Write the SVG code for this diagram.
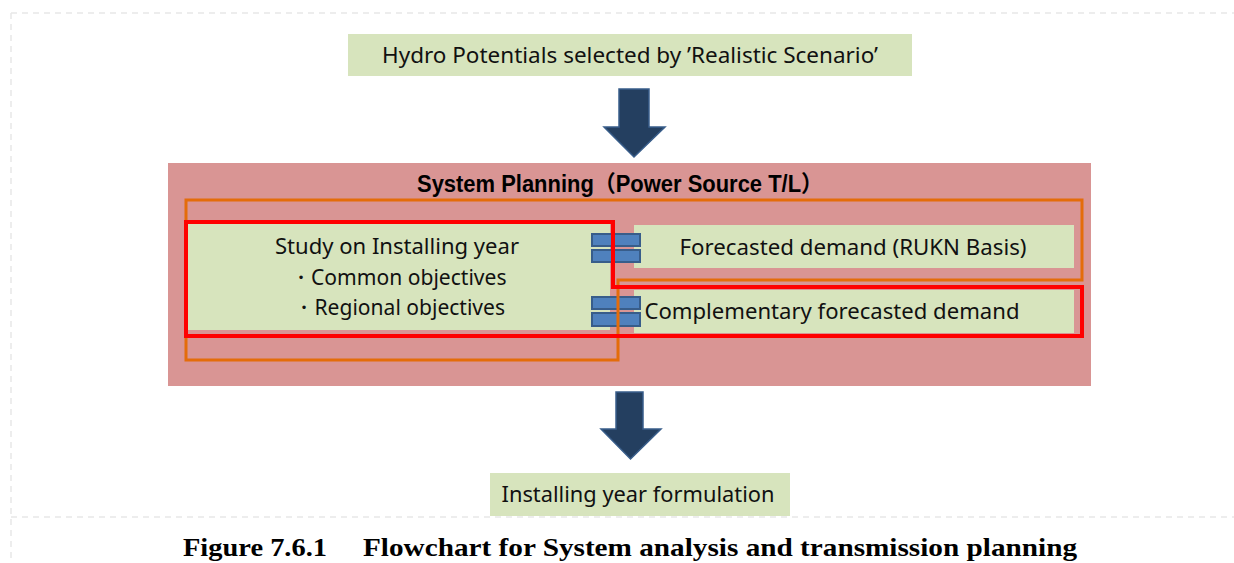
<svg xmlns="http://www.w3.org/2000/svg" width="1234" height="563" viewBox="0 0 1234 563">
<style>
.frame{fill:none;stroke:#e8e8e8;stroke-width:1.5;stroke-dasharray:6 5}
.green{fill:#d7e4bd}
.pink{fill:#d99594}
.t{font-family:"Noto Sans","Open Sans",sans-serif;font-size:21.5px;fill:#111;text-anchor:middle}
.title{font-family:"Liberation Sans","Noto Sans CJK JP",sans-serif;font-size:23px;font-weight:bold;fill:#000}
.cap{font-family:"Liberation Serif","Times New Roman",serif;font-size:26px;font-weight:bold;fill:#000}
.bar{fill:#4f81bd;stroke:#385d8a;stroke-width:2}
.arrow{fill:#243f60;stroke:#385d8a;stroke-width:1.5}
.orange{fill:none;stroke:#e46c0a;stroke-width:3}
.red{fill:none;stroke:#ff0000;stroke-width:4}
</style>
<g id="frame">
<line class="frame" x1="11" y1="13" x2="1234" y2="13"/>
<line class="frame" x1="11" y1="13" x2="11" y2="563" stroke-dasharray="2 8"/>
<line class="frame" x1="11" y1="517" x2="1234" y2="517"/>
</g>
<g id="hydro">
<rect class="green" x="348" y="34" width="564" height="42"/>
<text class="t" x="630" y="63" textLength="496" lengthAdjust="spacingAndGlyphs">Hydro Potentials selected by ’Realistic Scenario’</text>
</g>
<g id="system-planning">
<rect class="pink" x="168" y="163" width="923" height="223"/>
<text class="title" x="417" y="192" textLength="406" lengthAdjust="spacingAndGlyphs">System Planning（Power Source T/L）</text>
</g>
<g id="study">
<rect class="green" x="187" y="223" width="423" height="107"/>
<text class="t" x="397" y="254" textLength="244" lengthAdjust="spacingAndGlyphs">Study on Installing year</text>
<text class="t" x="398" y="285" textLength="217" lengthAdjust="spacingAndGlyphs">・Common objectives</text>
<text class="t" x="399" y="315" textLength="212" lengthAdjust="spacingAndGlyphs">・Regional objectives</text>
</g>
<g id="forecasted">
<rect class="green" x="634" y="225" width="440" height="43"/>
<text class="t" x="853" y="255" textLength="347" lengthAdjust="spacingAndGlyphs">Forecasted demand (RUKN Basis)</text>
</g>
<g id="complementary">
<rect class="green" x="634" y="290" width="440" height="43"/>
<text class="t" x="832" y="319" textLength="375" lengthAdjust="spacingAndGlyphs">Complementary forecasted demand</text>
</g>
<g id="formulation">
<rect class="green" x="490" y="473" width="300" height="43"/>
<text class="t" x="638" y="502" textLength="273" lengthAdjust="spacingAndGlyphs">Installing year formulation</text>
</g>
<g id="connectors">
<polygon class="arrow" points="619,89 649,89 649,127 665,127 634,157 604,127 619,127"/>
<polygon class="arrow" points="616,392 643,392 643,429 661,429 630.5,459 601,429 616,429"/>
<rect class="bar" x="592" y="234" width="48" height="12"/>
<rect class="bar" x="592" y="250" width="48" height="12"/>
<rect class="bar" x="592" y="297" width="48" height="12"/>
<rect class="bar" x="592" y="313" width="48" height="13"/>
</g>
<g id="outlines">
<polygon class="orange" points="186,200 1082,200 1082,280 618,280 618,360 186,360"/>
<polygon class="red" points="186,222 613,222 613,287 1082,287 1082,336 186,336"/>
</g>
<g id="caption">
<text class="cap" x="183" y="556" textLength="144" lengthAdjust="spacingAndGlyphs">Figure 7.6.1</text>
<text class="cap" x="363" y="556" textLength="714" lengthAdjust="spacingAndGlyphs">Flowchart for System analysis and transmission planning</text>
</g>
</svg>
